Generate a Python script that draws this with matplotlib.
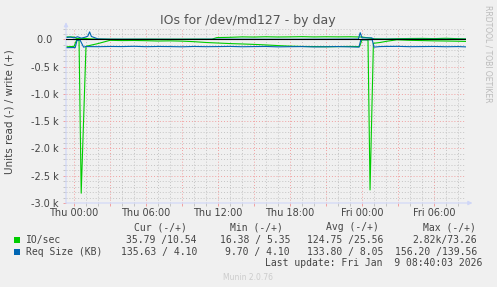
import numpy as np
import matplotlib
matplotlib.use("Agg")
import matplotlib.pyplot as plt
from matplotlib.patches import Rectangle
from matplotlib.ticker import FixedLocator, MultipleLocator

W, H = 497, 287

# time in hours from Thu 00:00, values as shown by munin
io_read_t = [-0.67, -0.33, 0.0, 0.2, 0.42, 0.6, 1.0, 1.5, 2.0, 2.5, 3.0, 4.0, 5.0, 6.0, 7.0,
             8.0, 9.0, 10.0, 11.0, 12.0, 13.0, 14.0, 15.0, 16.0, 17.0, 18.0, 19.0, 20.0, 21.0,
             22.0, 23.0, 23.8, 24.0, 24.5, 24.67, 24.95, 25.5, 26.0, 26.9, 28.0, 29.0, 30.0,
             31.0, 32.0, 32.67]
io_read = [135, 130, 128, 20, 10, 2820, 125, 100, 75, 45, 15, 20, 18, 22, 28,
           25, 30, 40, 55, 65, 75, 82, 90, 100, 112, 122, 128, 130, 133,
           130, 128, 130, 5, 8, 2760, 70, 55, 35, 5, 15, 20, 25,
           28, 32, 35.8]

io_write_t = [-0.67, 0.0, 0.2, 0.5, 1.0, 1.5, 2.0, 3.0, 4.0, 6.0, 8.0, 10.0, 11.5, 11.9,
              13.0, 14.0, 15.0, 16.0, 17.0, 18.0, 19.0, 20.0, 21.0, 22.0, 23.0, 24.0, 24.5,
              25.0, 26.0, 27.0, 28.0, 29.0, 30.0, 31.0, 32.0, 32.67]
io_write = [48, 45, 20, 15, 18, 10, 8, 5, 4, 6, 5, 6, 5, 35,
            40, 48, 45, 50, 46, 48, 52, 47, 50, 48, 50, 45, 30,
            12, 8, 15, 18, 20, 16, 22, 15, 10.5]

rq_read_t = [-0.67, 0.0, 0.1, 0.25, 0.5, 0.8, 1.0, 2.0, 3.0, 4.0, 5.0, 6.0, 7.0, 8.0, 9.0,
             10.0, 11.0, 12.0, 13.0, 14.0, 15.0, 16.0, 17.0, 18.0, 19.0, 20.0, 21.0, 22.0,
             23.0, 23.75, 23.9, 24.85, 25.0, 25.5, 26.0, 27.0, 28.0, 29.0, 30.0, 31.0,
             32.0, 32.67]
rq_read = [150, 148, 150, 15, 8, 140, 130, 132, 128, 130, 125, 132, 128, 130, 134,
           128, 132, 130, 127, 133, 130, 128, 135, 132, 130, 136, 134, 130,
           135, 140, 5, 5, 140, 130, 128, 126, 132, 130, 128, 133,
           130, 135.6]

rq_write_t = [-0.67, -0.3, 0.0, 0.3, 0.6, 0.9, 1.15, 1.3, 1.45, 1.7, 2.0, 3.0, 6.0, 9.0,
              12.0, 15.0, 18.0, 21.0, 23.7, 23.85, 24.0, 24.8, 25.0, 26.0, 29.0, 32.67]
rq_write = [35, 45, 30, 50, 25, 40, 60, 140, 55, 35, 10, 6, 5, 4,
            6, 5, 4, 6, 8, 125, 30, 30, 5, 6, 5, 4.1]

xtick_pos = [0, 6, 12, 18, 24, 30]
xtick_labels = ["Thu 00:00", "Thu 06:00", "Thu 12:00", "Thu 18:00", "Fri 00:00", "Fri 06:00"]
ytick_pos = [0, -500, -1000, -1500, -2000, -2500, -3000]
ytick_labels = ["0.0  ", "-0.5 k", "-1.0 k", "-1.5 k", "-2.0 k", "-2.5 k", "-3.0 k"]

legend_names = ["IO/sec", "Req Size (KB)"]
legend_colors = ["#00CC00", "#0066B3"]
col_heads = ["Cur (-/+)", "Min (-/+)", "Avg (-/+)", "Max (-/+)"]
cur_vals = ["35.79 /10.54", "135.63 / 4.10"]
min_vals = ["16.38 / 5.35", "9.70 / 4.10"]
avg_vals = ["124.75 /25.56", "133.80 / 8.05"]
max_vals = ["2.82k/73.26", "156.20 /139.56"]

BG = "#F0F0F0"
FONT = "#444444"

fig = plt.figure(figsize=(W / 100, H / 100), dpi=100, facecolor=BG)
ax = fig.add_axes([66 / W, 1 - 203 / H, 400 / W, 175.5 / H])
ax.set_facecolor(BG)

ax.plot(io_read_t, -np.array(io_read), color=legend_colors[0], lw=0.8)
ax.plot(io_write_t, io_write, color=legend_colors[0], lw=0.8)
ax.plot(rq_read_t, -np.array(rq_read), color=legend_colors[1], lw=0.8)
ax.plot(rq_write_t, rq_write, color=legend_colors[1], lw=0.8)
ax.axhline(0, color="black", lw=0.8, zorder=5)

ax.set_xlim(-2 / 3, 32 + 2 / 3)
ax.set_ylim(-3000, 220)

# grid: red dotted majors, grey dotted minors
major_x = list(range(0, 33, 3))
ax.xaxis.set_major_locator(FixedLocator(major_x))
ax.set_xticklabels([xtick_labels[xtick_pos.index(p)] if p in xtick_pos else "" for p in major_x])
ax.xaxis.set_minor_locator(MultipleLocator(1))
ax.yaxis.set_major_locator(FixedLocator(ytick_pos))
ax.set_yticklabels(ytick_labels)
ax.yaxis.set_minor_locator(MultipleLocator(100))
ax.grid(which="major", color="#F0A0A0", ls=(0, (1, 2)), lw=0.7)
ax.grid(which="minor", color="#C4C4C4", ls=(0, (1, 2)), lw=0.7)
ax.set_axisbelow(True)

ax.tick_params(axis="both", which="major", labelsize=7, labelcolor=FONT, color="#F0A0A0",
               length=2.2, width=0.7)
ax.tick_params(axis="both", which="minor", color="#C4C4C4", length=2.2, width=0.7)
ax.tick_params(axis="x", pad=1.5)
ax.tick_params(axis="y", pad=3)
for s in ax.spines.values():
    s.set_visible(False)

# axis lines with arrows
arrow = dict(arrowstyle="-|>", color="#CFD6F8", lw=0.8, mutation_scale=6, shrinkA=0, shrinkB=0)
ax.annotate("", xy=(0, 1.03), xytext=(0, 0), xycoords="axes fraction", arrowprops=arrow)
ax.annotate("", xy=(1.016, 0), xytext=(0, 0), xycoords="axes fraction", arrowprops=arrow)


def fx(x):
    return x / W


def fy(y):
    return 1 - y / H


fig.text(fx(248), fy(24), "IOs for /dev/md127 - by day", fontsize=9, color="#555555",
         ha="center", va="baseline")
fig.text(fx(10), fy(112), "Units read (-) / write (+)", fontsize=7.5, color=FONT,
         rotation=90, ha="center", va="center")
fig.text(fx(488), fy(54), "RRDTOOL / TOBI OETIKER", fontsize=5.5, color="#BBBBBB",
         rotation=270, ha="center", va="center")

mono = dict(family="DejaVu Sans Mono", fontsize=7, color=FONT, va="center")
head_right = [187, 283, 379, 476]
val_right = [197, 290, 383, 477]
for h, xr in zip(col_heads, head_right):
    fig.text(fx(xr), fy(227), h, ha="right", **mono)
rows_y = [239.5, 252]
for i, name in enumerate(legend_names):
    y = rows_y[i]
    fig.patches.append(Rectangle((fx(14), fy(y + 3)), 6 / W, 6 / H, transform=fig.transFigure,
                                 facecolor=legend_colors[i], edgecolor="none"))
    fig.text(fx(26), fy(y), name, ha="left", **mono)
    for vals, xr in zip([cur_vals, min_vals, avg_vals, max_vals], val_right):
        fig.text(fx(xr), fy(y), vals[i], ha="right", **mono)
fig.text(fx(482), fy(263.5), "Last update: Fri Jan  9 08:40:03 2026", ha="right", **mono)
fig.text(fx(248), fy(277), "Munin 2.0.76", fontsize=5.5, color="#CCCCCC", ha="center", va="center")

fig.savefig("out.png", dpi=100, facecolor=BG)
